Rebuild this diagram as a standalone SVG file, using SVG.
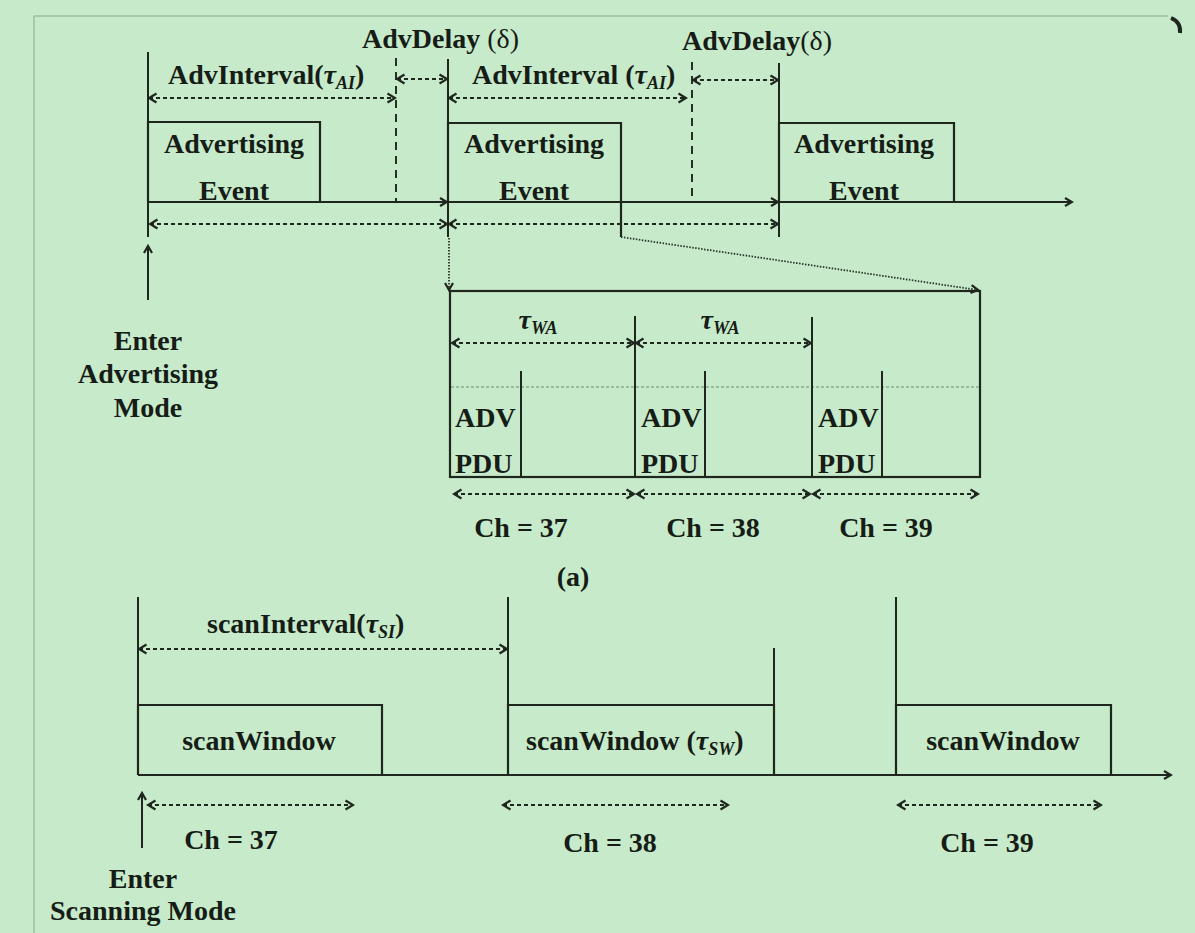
<svg xmlns="http://www.w3.org/2000/svg" width="1195" height="933" viewBox="0 0 1195 933">
<defs>
<marker id="ah" viewBox="0 0 12 12" refX="10" refY="6" markerWidth="12" markerHeight="12" markerUnits="userSpaceOnUse" orient="auto-start-reverse">
<path d="M3,2 L10,6 L3,10" fill="none" stroke="#1e261e" stroke-width="2.2"/>
</marker>
<marker id="ahs" viewBox="0 0 12 12" refX="10" refY="6" markerWidth="12" markerHeight="12" markerUnits="userSpaceOnUse" orient="auto-start-reverse">
<path d="M2.5,1.5 L10,6 L2.5,10.5" fill="none" stroke="#1e261e" stroke-width="2.2"/>
</marker>
<style>
text{font-family:"Liberation Serif","Times New Roman",serif;font-weight:bold;font-size:28px;fill:#161c16}
.c{text-anchor:middle}
.it{font-style:italic}
.sub{font-style:italic;font-size:18px}
.nb{font-weight:normal}
.ln{stroke:#1e261e;stroke-width:2;fill:none}
.bx{stroke:#1e261e;stroke-width:2.2;fill:none}
.da{stroke:#1e261e;stroke-width:1.9;stroke-dasharray:4 3;fill:none}
.dv{stroke:#1e261e;stroke-width:1.9;stroke-dasharray:8 6;fill:none}
.dot{stroke:#2a352a;stroke-width:1.8;stroke-dasharray:1.5 1.5;fill:none}
.grid{stroke:#6f8c70;stroke-width:1.2;stroke-dasharray:3 2;fill:none}
</style>
</defs>
<rect x="0" y="0" width="1195" height="933" fill="#c7ebca"/>
<path d="M34,16 H1168 M34,16 V933" stroke="#9fbfa1" stroke-width="1.5" fill="none"/>
<path d="M1171,18 Q1181,22 1180,33" stroke="#1e261e" stroke-width="4" fill="none"/>

<g id="adv-event-1">
<polyline class="bx" points="148,202 148,122 320,122 320,202"/>
<text class="c" x="234" y="153">Advertising</text>
<text class="c" x="234" y="200">Event</text>
</g>
<g id="adv-event-2">
<polyline class="bx" points="448,202 448,123 621,123 621,237"/>
<text class="c" x="534" y="153">Advertising</text>
<text class="c" x="534" y="200">Event</text>
</g>
<g id="adv-event-3">
<polyline class="bx" points="779,202 779,123 954,123 954,202"/>
<text class="c" x="864" y="153">Advertising</text>
<text class="c" x="864" y="200">Event</text>
</g>

<g id="adv-labels">
<text x="362" y="48">AdvDelay <tspan class="nb">(δ)</tspan></text>
<text x="682" y="50">AdvDelay<tspan class="nb">(δ)</tspan></text>
<text x="168" y="84">AdvInterval(<tspan class="it">τ</tspan><tspan class="sub" dy="5">AI</tspan><tspan dy="-5">)</tspan></text>
<text x="472" y="84">AdvInterval (<tspan class="it">τ</tspan><tspan class="sub" dy="5">AI</tspan><tspan dy="-5">)</tspan></text>
</g>

<g id="enter-advertising">
<text class="c" x="148" y="350">Enter</text>
<text class="c" x="148" y="383">Advertising</text>
<text class="c" x="148" y="417">Mode</text>
</g>

<g id="adv-window-detail">
<rect class="bx" x="450" y="291" width="530" height="186"/>
<line class="grid" x1="451" y1="387" x2="979" y2="387"/>
<line class="ln" x1="635" y1="316" x2="635" y2="477"/>
<line class="ln" x1="812" y1="317" x2="812" y2="477"/>
<line class="ln" x1="521" y1="371" x2="521" y2="477"/>
<line class="ln" x1="705" y1="371" x2="705" y2="477"/>
<line class="ln" x1="882" y1="371" x2="882" y2="477"/>
<text class="c" x="538" y="329"><tspan class="it">τ</tspan><tspan class="sub" dy="5">WA</tspan></text>
<text class="c" x="720" y="329"><tspan class="it">τ</tspan><tspan class="sub" dy="5">WA</tspan></text>
<text x="455" y="427">ADV</text>
<text x="455" y="473">PDU</text>
<text x="641" y="427">ADV</text>
<text x="641" y="473">PDU</text>
<text x="818" y="427">ADV</text>
<text x="818" y="473">PDU</text>
<text class="c" x="521" y="537">Ch = 37</text>
<text class="c" x="713" y="537">Ch = 38</text>
<text class="c" x="886" y="537">Ch = 39</text>
<text class="c" x="573" y="586">(a)</text>
</g>

<g id="scan-window-1">
<polyline class="bx" points="138,775 138,705 382,705 382,775"/>
<text class="c" x="259" y="750">scanWindow</text>
</g>
<g id="scan-window-2">
<polyline class="bx" points="508,775 508,705 774,705 774,775"/>
<text x="526" y="750">scanWindow (<tspan class="it">τ</tspan><tspan class="sub" dy="5">SW</tspan><tspan dy="-5">)</tspan></text>
</g>
<g id="scan-window-3">
<polyline class="bx" points="896,775 896,705 1111,705 1111,775"/>
<text class="c" x="1003" y="750">scanWindow</text>
</g>
<g id="scan-labels">
<text x="207" y="633">scanInterval(<tspan class="it">τ</tspan><tspan class="sub" dy="5">SI</tspan><tspan dy="-5">)</tspan></text>
<text class="c" x="231" y="849">Ch = 37</text>
<text class="c" x="610" y="852">Ch = 38</text>
<text class="c" x="987" y="852">Ch = 39</text>
</g>
<g id="enter-scanning">
<text class="c" x="143" y="888">Enter</text>
<text class="c" x="143" y="920">Scanning Mode</text>
</g>

<g id="connectors">
<line class="ln" x1="148" y1="52" x2="148" y2="237"/>
<line class="ln" x1="448" y1="59" x2="448" y2="237"/>
<line class="ln" x1="779" y1="63" x2="779" y2="237"/>
<line class="dv" x1="396" y1="58" x2="396" y2="202"/>
<line class="dv" x1="692" y1="62" x2="692" y2="202"/>
<line class="ln" x1="148" y1="202" x2="447" y2="202" marker-end="url(#ah)"/>
<line class="ln" x1="448" y1="202" x2="778" y2="202" marker-end="url(#ah)"/>
<line class="ln" x1="779" y1="202" x2="1072" y2="202" marker-end="url(#ah)"/>
<line class="da" x1="149" y1="98" x2="395" y2="98" marker-start="url(#ahs)" marker-end="url(#ahs)"/>
<line class="da" x1="449" y1="98" x2="686" y2="98" marker-start="url(#ahs)" marker-end="url(#ahs)"/>
<line class="da" x1="397" y1="79" x2="447" y2="79" marker-start="url(#ahs)" marker-end="url(#ahs)"/>
<line class="da" x1="693" y1="80" x2="778" y2="80" marker-start="url(#ahs)" marker-end="url(#ahs)"/>
<line class="da" x1="150" y1="224" x2="447" y2="224" marker-start="url(#ahs)" marker-end="url(#ahs)"/>
<line class="da" x1="449" y1="224" x2="778" y2="224" marker-start="url(#ahs)" marker-end="url(#ahs)"/>
<line class="ln" x1="148" y1="300" x2="148" y2="246" marker-end="url(#ah)"/>
<line class="dot" x1="449" y1="238" x2="449" y2="290" marker-end="url(#ah)"/>
<line class="dot" x1="621" y1="237" x2="978" y2="290" marker-end="url(#ah)"/>
<line class="da" x1="452" y1="343" x2="634" y2="343" marker-start="url(#ahs)" marker-end="url(#ahs)"/>
<line class="da" x1="636" y1="343" x2="811" y2="343" marker-start="url(#ahs)" marker-end="url(#ahs)"/>
<line class="da" x1="454" y1="494" x2="634" y2="494" marker-start="url(#ahs)" marker-end="url(#ahs)"/>
<line class="da" x1="637" y1="494" x2="810" y2="494" marker-start="url(#ahs)" marker-end="url(#ahs)"/>
<line class="da" x1="813" y1="494" x2="978" y2="494" marker-start="url(#ahs)" marker-end="url(#ahs)"/>
<line class="ln" x1="138" y1="597" x2="138" y2="775"/>
<line class="ln" x1="508" y1="597" x2="508" y2="775"/>
<line class="ln" x1="896" y1="597" x2="896" y2="775"/>
<line class="ln" x1="774" y1="648" x2="774" y2="705"/>
<line class="ln" x1="138" y1="775" x2="1171" y2="775" marker-end="url(#ah)"/>
<line class="da" x1="139" y1="649" x2="507" y2="649" marker-start="url(#ahs)" marker-end="url(#ahs)"/>
<line class="da" x1="148" y1="805" x2="353" y2="805" marker-start="url(#ahs)" marker-end="url(#ahs)"/>
<line class="da" x1="503" y1="805" x2="728" y2="805" marker-start="url(#ahs)" marker-end="url(#ahs)"/>
<line class="da" x1="898" y1="805" x2="1101" y2="805" marker-start="url(#ahs)" marker-end="url(#ahs)"/>
<line class="ln" x1="142" y1="848" x2="142" y2="793" marker-end="url(#ah)"/>
</g>
</svg>
